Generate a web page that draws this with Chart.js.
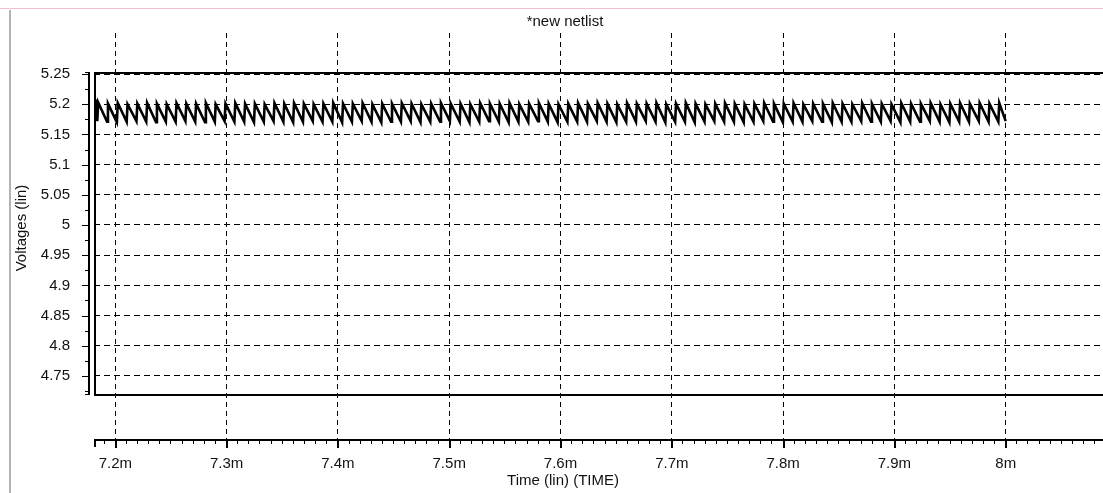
<!DOCTYPE html>
<html>
<head>
<meta charset="utf-8">
<title>new netlist</title>
<script src="https://cdn.jsdelivr.net/npm/chart.js@4.4.1/dist/chart.umd.min.js"></script>
<style>
  html, body { margin: 0; padding: 0; background: #ffffff; overflow: hidden; }
  canvas { display: block; }
</style>
</head>
<body>
<canvas id="wave" width="1103" height="493"></canvas>
<script>
// ---- waveform data (time in ms, voltage in V) ----
const leadTimes = [7.1810, 7.1812, 7.1822];
const leadVolts = [5.178, 5.192, 5.208];

// start of each ripple cycle (trough, just before the sharp rise)
const cycleTimes = [
  7.1838, 7.1926, 7.2014, 7.2102, 7.2190, 7.2278, 7.2366, 7.2454, 7.2542, 7.2630,
  7.2718, 7.2806, 7.2894, 7.2982, 7.3070, 7.3158, 7.3246, 7.3334, 7.3422, 7.3510,
  7.3598, 7.3686, 7.3774, 7.3862, 7.3950, 7.4038, 7.4126, 7.4214, 7.4302, 7.4390,
  7.4478, 7.4566, 7.4654, 7.4742, 7.4830, 7.4918, 7.5006, 7.5094, 7.5182, 7.5270,
  7.5358, 7.5446, 7.5534, 7.5622, 7.5710, 7.5798, 7.5886, 7.5974, 7.6062, 7.6150,
  7.6238, 7.6326, 7.6414, 7.6502, 7.6590, 7.6678, 7.6766, 7.6854, 7.6942, 7.7030,
  7.7118, 7.7206, 7.7294, 7.7382, 7.7470, 7.7558, 7.7646, 7.7734, 7.7822, 7.7910,
  7.7998, 7.8086, 7.8174, 7.8262, 7.8350, 7.8438, 7.8526, 7.8614, 7.8702, 7.8790,
  7.8878, 7.8966, 7.9054, 7.9142, 7.9230, 7.9318, 7.9406, 7.9494, 7.9582, 7.9670,
  7.9758, 7.9846, 7.9934
];
const troughVolts = [
  5.172, 5.171, 5.170, 5.171, 5.172, 5.171, 5.170, 5.171, 5.171, 5.172,
  5.171, 5.170, 5.171, 5.172, 5.171, 5.171, 5.170, 5.171, 5.172, 5.171,
  5.170, 5.171, 5.172, 5.171, 5.171, 5.170, 5.171, 5.172, 5.171, 5.170,
  5.171, 5.171, 5.172, 5.170, 5.171, 5.171, 5.172, 5.171, 5.170, 5.171,
  5.172, 5.171, 5.170, 5.171, 5.171, 5.172, 5.171, 5.170, 5.171, 5.171,
  5.171, 5.172, 5.171, 5.170, 5.171, 5.171, 5.172, 5.171, 5.170, 5.171,
  5.171, 5.170, 5.171, 5.172, 5.171, 5.171, 5.170, 5.171, 5.172, 5.171,
  5.170, 5.171, 5.171, 5.172, 5.171, 5.170, 5.171, 5.171, 5.172, 5.171,
  5.171, 5.172, 5.170, 5.171, 5.171, 5.172, 5.171, 5.170, 5.171, 5.171,
  5.172, 5.171, 5.171
];
const peakVolts = [
  5.203, 5.201, 5.202, 5.200, 5.201, 5.202, 5.201, 5.200, 5.202, 5.201,
  5.201, 5.202, 5.200, 5.201, 5.202, 5.201, 5.201, 5.200, 5.202, 5.201,
  5.202, 5.201, 5.200, 5.201, 5.202, 5.201, 5.201, 5.202, 5.200, 5.201,
  5.201, 5.202, 5.201, 5.200, 5.201, 5.202, 5.201, 5.201, 5.200, 5.202,
  5.201, 5.201, 5.202, 5.200, 5.201, 5.202, 5.201, 5.200, 5.201, 5.202,
  5.201, 5.202, 5.201, 5.200, 5.202, 5.201, 5.201, 5.202, 5.200, 5.201,
  5.202, 5.201, 5.200, 5.201, 5.202, 5.201, 5.200, 5.201, 5.202, 5.201,
  5.201, 5.202, 5.200, 5.201, 5.201, 5.202, 5.201, 5.200, 5.202, 5.201,
  5.201, 5.200, 5.202, 5.201, 5.201, 5.202, 5.200, 5.201, 5.202, 5.201,
  5.202, 5.201, 5.202
];
const tailTimes = [8.0000];
const tailVolts = [5.172];

// ---- axis ticks ----
const xTickValues = [7.2, 7.3, 7.4, 7.5, 7.6, 7.7, 7.8, 7.9, 8.0];
const xTickLabels = ['7.2m', '7.3m', '7.4m', '7.5m', '7.6m', '7.7m', '7.8m', '7.9m', '8m'];
const yTickValues = [5.25, 5.2, 5.15, 5.1, 5.05, 5, 4.95, 4.9, 4.85, 4.8, 4.75];
const yTickLabels = ['5.25', '5.2', '5.15', '5.1', '5.05', '5', '4.95', '4.9', '4.85', '4.8', '4.75'];

const titleText = '*new netlist';
const xTitleText = 'Time (lin) (TIME)';
const yTitleText = 'Voltages (lin)';

// ---- view ranges ----
const X_MIN = 7.18086, X_MAX = 8.08742;
const Y_MIN = 4.644, Y_MAX = 5.3179;
const BOX_TOP = 5.2525, BOX_BOTTOM = 4.7195;
const RISE = 0.0008; // duration of the sharp rising edge (ms)

const FONT = 'Liberation Sans, Arial, Helvetica, sans-serif';

// assemble the trace
const points = [];
leadTimes.forEach((t, i) => points.push({ x: t, y: leadVolts[i] }));
cycleTimes.forEach((t, i) => {
  points.push({ x: t, y: troughVolts[i] });
  points.push({ x: t + RISE, y: peakVolts[i] });
});
tailTimes.forEach((t, i) => points.push({ x: t, y: tailVolts[i] }));

// frame, separated axes, tick marks and titles in waveform-viewer style
const viewerFrame = {
  id: 'viewerFrame',
  beforeDraw(chart) {
    const { ctx, width, height } = chart;
    ctx.save();
    ctx.fillStyle = '#f5c2cc';
    ctx.fillRect(0, 8, width, 1);
    ctx.fillStyle = '#b3b3b3';
    ctx.fillRect(9, 10, 2, height - 10);
    ctx.restore();
  },
  afterDraw(chart) {
    const { ctx, chartArea: a, scales: { x, y } } = chart;
    const boxTop = Math.floor(y.getPixelForValue(BOX_TOP));
    const boxBottom = Math.floor(y.getPixelForValue(BOX_BOTTOM));
    const boxLeft = a.left;
    ctx.save();
    ctx.fillStyle = '#000';
    // plot box (open on the right, beyond the window)
    ctx.fillRect(boxLeft, boxTop, a.right - boxLeft, 2);
    ctx.fillRect(boxLeft, boxBottom, a.right - boxLeft, 2);
    ctx.fillRect(boxLeft, boxTop, 2, boxBottom - boxTop + 2);

    // detached y axis
    const ax = boxLeft - 6;
    ctx.fillRect(ax, boxTop, 2, boxBottom - boxTop + 1);
    ctx.fillRect(ax - 3, boxTop, 3, 1);
    ctx.fillRect(ax - 3, boxBottom, 3, 1);
    for (let v = 4.725; v <= 5.2501; v += 0.025) {
      const py = Math.round(y.getPixelForValue(v));
      const major = Math.abs(Math.round(v * 20) - v * 20) < 1e-6;
      const len = major ? 6 : 3;
      ctx.fillRect(ax - len, py, len, 1);
    }

    // detached x axis
    const ay = a.bottom - 1;
    ctx.fillRect(boxLeft, ay, a.right - boxLeft, 2);
    ctx.fillRect(boxLeft, ay + 2, 2, 6);
    for (let v = 7.19; v <= X_MAX; v += 0.01) {
      const px = Math.floor(x.getPixelForValue(v));
      const major = Math.abs(Math.round(v * 10) - v * 10) < 1e-6;
      if (major) ctx.fillRect(px, ay + 2, 2, 7);
      else ctx.fillRect(px, ay + 2, 1, 3);
    }

    // titles
    ctx.fillStyle = '#111';
    ctx.font = '15px ' + FONT;
    ctx.textAlign = 'center';
    ctx.textBaseline = 'middle';
    ctx.fillText(titleText, 565, 22);
    ctx.fillText(xTitleText, 563, 481);
    ctx.translate(22, 228);
    ctx.rotate(-Math.PI / 2);
    ctx.fillText(yTitleText, 0, 0);
    ctx.restore();
  }
};

new Chart(document.getElementById('wave'), {
  type: 'line',
  data: {
    datasets: [{
      label: 'v',
      data: points,
      borderColor: '#000',
      borderWidth: 2.6,
      pointRadius: 0,
      tension: 0,
      fill: false
    }]
  },
  options: {
    responsive: false,
    devicePixelRatio: 1,
    animation: false,
    events: [],
    layout: { padding: { top: 32, right: 0, bottom: 0, left: 0 } },
    plugins: { legend: { display: false }, tooltip: { enabled: false }, title: { display: false } },
    scales: {
      x: {
        type: 'linear',
        position: 'bottom',
        min: X_MIN,
        max: X_MAX,
        afterFit: (s) => { s.height = 53; },
        afterBuildTicks: (s) => { s.ticks = xTickValues.map(v => ({ value: v })); },
        grid: { color: '#000', lineWidth: 1, drawTicks: false },
        border: { display: false, dash: [5, 4] },
        ticks: {
          autoSkip: false,
          maxRotation: 0,
          padding: 15,
          color: '#111',
          font: { family: FONT, size: 15 },
          callback: (v, i) => xTickLabels[i]
        }
      },
      y: {
        type: 'linear',
        position: 'left',
        min: Y_MIN,
        max: Y_MAX,
        afterFit: (s) => { s.width = 94; },
        afterBuildTicks: (s) => { s.ticks = yTickValues.map(v => ({ value: v })); },
        grid: { color: '#000', lineWidth: 1, drawTicks: false },
        border: { display: false, dash: [6, 4] },
        ticks: {
          autoSkip: false,
          padding: 24,
          color: '#111',
          font: { family: FONT, size: 15 },
          callback: (v, i) => yTickLabels[i]
        }
      }
    }
  },
  plugins: [viewerFrame]
});
</script>
</body>
</html>
